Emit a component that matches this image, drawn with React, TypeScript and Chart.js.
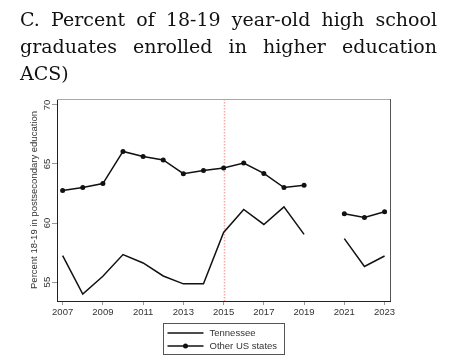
import React, { useEffect, useRef } from "react";
import { Chart, registerables } from "chart.js";

Chart.register(...registerables);

const years = [2007, 2008, 2009, 2010, 2011, 2012, 2013, 2014, 2015, 2016, 2017, 2018, 2019, 2020, 2021, 2022, 2023];
const tennessee = [57.24, 53.98, 55.5, 57.33, 56.62, 55.52, 54.85, 54.85, 59.2, 61.15, 59.88, 61.37, 59.04, null, 58.68, 56.32, 57.21];
const otherStates = [62.75, 63.0, 63.34, 66.06, 65.64, 65.34, 64.18, 64.44, 64.66, 65.08, 64.2, 63.0, 63.2, null, 60.78, 60.47, 60.95];
const xTicks = [2007, 2009, 2011, 2013, 2015, 2017, 2019, 2021, 2023];
const yTicks = [55, 60, 65, 70];
const policyYear = 2015;
const seriesNames = ["Tennessee", "Other US states"];
const yTitle = "Percent 18-19 in postsecondary education";
const titleLines = [
  "C. Percent of 18-19 year-old high school",
  "graduates enrolled in higher education",
  "ACS)",
];

const SANS = '"Liberation Sans", Arial, sans-serif';

const decorPlugin = {
  id: "decor",
  beforeDatasetsDraw(chart: any) {
    const { ctx, chartArea, scales } = chart;
    const x = Math.round(scales.x.getPixelForValue(policyYear)) + 0.5;
    ctx.save();
    ctx.strokeStyle = "#f5a8a8";
    ctx.lineWidth = 1.5;
    ctx.setLineDash([1.5, 1.5]);
    ctx.beginPath();
    ctx.moveTo(x, chartArea.top);
    ctx.lineTo(x, chartArea.bottom);
    ctx.stroke();
    ctx.restore();
  },
  afterDraw(chart: any) {
    const { ctx, chartArea, scales } = chart;
    ctx.save();
    // top and right frame
    ctx.lineWidth = 1;
    ctx.strokeStyle = "#a8a8a8";
    ctx.beginPath();
    ctx.moveTo(chartArea.left, chartArea.top + 0.5);
    ctx.lineTo(chartArea.right, chartArea.top + 0.5);
    ctx.stroke();
    ctx.strokeStyle = "#555";
    ctx.beginPath();
    ctx.moveTo(chartArea.right + 0.5, chartArea.top);
    ctx.lineTo(chartArea.right + 0.5, chartArea.bottom);
    ctx.stroke();

    // y tick labels (rotated)
    ctx.fillStyle = "#333";
    ctx.font = `9.5px ${SANS}`;
    ctx.textAlign = "center";
    ctx.textBaseline = "middle";
    for (const v of yTicks) {
      const y = scales.y.getPixelForValue(v);
      ctx.save();
      ctx.translate(chartArea.left - 10, y);
      ctx.rotate(-Math.PI / 2);
      ctx.fillText(String(v), 0, 0);
      ctx.restore();
    }
    // y title
    ctx.save();
    ctx.translate(chartArea.left - 23, (chartArea.top + chartArea.bottom) / 2);
    ctx.rotate(-Math.PI / 2);
    ctx.fillText(yTitle, 0, 0);
    ctx.restore();

    // legend
    const bx = 163.5, by = 323.5, bw = 121, bh = 31;
    ctx.strokeStyle = "#555";
    ctx.lineWidth = 1;
    ctx.strokeRect(bx, by, bw, bh);
    const rows = [by + 9.5, by + 22.5];
    chart.data.datasets.forEach((ds: any, i: number) => {
      const ry = rows[i];
      ctx.strokeStyle = ds.borderColor;
      ctx.lineWidth = ds.borderWidth;
      ctx.beginPath();
      ctx.moveTo(bx + 4, ry);
      ctx.lineTo(bx + 40, ry);
      ctx.stroke();
      if (ds.pointRadius > 0) {
        ctx.fillStyle = ds.pointBackgroundColor;
        ctx.beginPath();
        ctx.arc(bx + 22, ry, ds.pointRadius, 0, Math.PI * 2);
        ctx.fill();
      }
      ctx.fillStyle = "#333";
      ctx.textAlign = "left";
      ctx.textBaseline = "middle";
      ctx.font = `9.5px ${SANS}`;
      ctx.fillText(ds.label, bx + 46, ry + 0.5);
    });
    ctx.restore();
  },
};

export default function App() {
  const ref = useRef<HTMLCanvasElement>(null);

  useEffect(() => {
    if (!ref.current) return;
    const toPts = (vals: (number | null)[]) => years.map((yr, i) => ({ x: yr, y: vals[i] }));
    const chart = new Chart(ref.current, {
      type: "line",
      data: {
        datasets: [
          {
            label: seriesNames[0],
            data: toPts(tennessee) as any,
            borderColor: "#111",
            backgroundColor: "#111",
            borderWidth: 1.5,
            pointRadius: 0,
            pointBackgroundColor: "#111",
            spanGaps: false,
            tension: 0,
          },
          {
            label: seriesNames[1],
            data: toPts(otherStates) as any,
            borderColor: "#111",
            backgroundColor: "#111",
            borderWidth: 1.5,
            pointRadius: 2.5,
            pointBackgroundColor: "#111",
            pointBorderWidth: 0,
            spanGaps: false,
            tension: 0,
          },
        ],
      },
      options: {
        responsive: false,
        animation: false,
        devicePixelRatio: 1,
        layout: { padding: { top: 99, right: 68, left: 0, bottom: 40 } },
        plugins: { legend: { display: false }, tooltip: { enabled: false }, title: { display: false } },
        scales: {
          x: {
            type: "linear",
            min: 2006.72,
            max: 2023.27,
            afterBuildTicks: (s: any) => {
              s.ticks = xTicks.map((v) => ({ value: v }));
            },
            afterFit: (s: any) => {
              s.height = 20;
            },
            grid: { drawOnChartArea: false, drawTicks: true, tickLength: 4, tickColor: "#999" },
            border: { display: true, color: "#222", width: 1 },
            ticks: {
              color: "#333",
              font: { family: SANS, size: 9.5 },
              padding: 2,
              maxRotation: 0,
              autoSkip: false,
              callback: (v: any) => String(v),
            },
          },
          y: {
            type: "linear",
            min: 53.4,
            max: 70.5,
            afterBuildTicks: (s: any) => {
              s.ticks = yTicks.map((v) => ({ value: v }));
            },
            afterFit: (s: any) => {
              s.width = 57;
            },
            grid: { drawOnChartArea: false, drawTicks: true, tickLength: 5, tickColor: "#999" },
            border: { display: true, color: "#222", width: 1 },
            ticks: { display: false },
          },
        },
      },
      plugins: [decorPlugin],
    });
    return () => chart.destroy();
  }, []);

  return (
    <div style={{ position: "fixed", left: 0, top: 0, width: 458, height: 361, background: "#fff", overflow: "hidden" }}>
      <canvas ref={ref} width={458} height={361} style={{ position: "absolute", left: 0, top: 0 }} />
      <div
        style={{
          position: "absolute",
          left: 20,
          top: 6,
          width: 417,
          fontFamily: '"DejaVu Serif", serif',
          fontSize: 19,
          lineHeight: "27px",
          color: "#111",
        }}
      >
        {titleLines.map((t, i) => (
          <div
            key={i}
            style={{
              textAlign: i < titleLines.length - 1 ? "justify" : "left",
              textAlignLast: i < titleLines.length - 1 ? "justify" : "left",
              whiteSpace: "nowrap",
            }}
          >
            {t}
          </div>
        ))}
      </div>
    </div>
  );
}
